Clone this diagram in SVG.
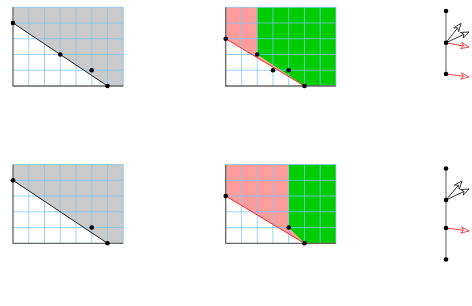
<svg xmlns="http://www.w3.org/2000/svg" width="472" height="306" viewBox="0 0 472 306">
<style>
.grid{fill:none;stroke:#7cc4f8;stroke-width:1;opacity:0.75}
.axis{fill:none;stroke:#666;stroke-width:1.3}
.gray{fill:#cacaca}
.pink{fill:#ff9d9d}
.green{fill:#00cc00}
.dline{stroke:#222;stroke-width:1;fill:none}
.rline{stroke:#ff2a2a;stroke-width:1;fill:none}
.pt{fill:#000}
.vline{stroke:#999;stroke-width:1.6}
.barr{stroke:#222;stroke-width:0.9;fill:none}
.rarr{stroke:#ff2a2a;stroke-width:0.9;fill:none}
</style>
<defs>
<path id="grid" d="M15.75,0V-78.75M31.5,0V-78.75M47.25,0V-78.75M63,0V-78.75M78.75,0V-78.75M94.5,0V-78.75M110.25,0V-78.75M0,-15.75H110.25M0,-31.5H110.25M0,-47.25H110.25M0,-63H110.25M0,-78.75H110.25"/>
<path id="axes" d="M0,-78.75V0H110.25"/>
<marker id="ab" markerWidth="10" markerHeight="8" refX="8.5" refY="4" orient="auto" markerUnits="userSpaceOnUse">
<path d="M0.5,0.8 L8.5,4 L0.5,7.2 L3,4 Z" fill="#fff" stroke="#222" stroke-width="0.8"/>
</marker>
<marker id="ar" markerWidth="10" markerHeight="8" refX="8.5" refY="4" orient="auto" markerUnits="userSpaceOnUse">
<path d="M0.5,0.8 L8.5,4 L0.5,7.2 L3,4 Z" fill="#fff" stroke="#ff2a2a" stroke-width="0.8"/>
</marker>
</defs>

<g id="panel1" transform="translate(13,86)">
<polygon class="gray" points="0,-78.75 110.25,-78.75 110.25,0 94.5,0 0,-63"/>
<use href="#grid" class="grid"/>
<use href="#axes" class="axis"/>
<line class="dline" x1="0" y1="-63" x2="94.5" y2="0"/>
<circle class="pt" cx="0" cy="-63" r="2.3"/>
<circle class="pt" cx="47.25" cy="-31.5" r="2.3"/>
<circle class="pt" cx="78.75" cy="-15.75" r="2.3"/>
<circle class="pt" cx="94.5" cy="0" r="2.3"/>
</g>

<g id="panel2" transform="translate(225.7,86)">
<polygon class="pink" points="0,-78.75 31.5,-78.75 31.5,-31.5 78.75,0 0,-47.25"/>
<polygon class="green" points="31.5,-78.75 110.25,-78.75 110.25,0 78.75,0 31.5,-31.5"/>
<use href="#grid" class="grid"/>
<use href="#axes" class="axis"/>
<line class="rline" x1="0" y1="-47.25" x2="78.75" y2="0"/>
<circle class="pt" cx="0" cy="-47.25" r="2.3"/>
<circle class="pt" cx="31.5" cy="-31.5" r="2.3"/>
<circle class="pt" cx="47.25" cy="-15.75" r="2.3"/>
<circle class="pt" cx="63" cy="-15.75" r="2.3"/>
<circle class="pt" cx="78.75" cy="0" r="2.3"/>
</g>

<g id="panel4" transform="translate(13,243.3)">
<polygon class="gray" points="0,-78.75 110.25,-78.75 110.25,0 94.5,0 0,-63"/>
<use href="#grid" class="grid"/>
<use href="#axes" class="axis"/>
<line class="dline" x1="0" y1="-63" x2="94.5" y2="0"/>
<circle class="pt" cx="0" cy="-63" r="2.3"/>
<circle class="pt" cx="78.75" cy="-15.75" r="2.3"/>
<circle class="pt" cx="94.5" cy="0" r="2.3"/>
</g>

<g id="panel5" transform="translate(225.7,243.3)">
<polygon class="pink" points="0,-78.75 63,-78.75 63,-15.75 78.75,0 0,-47.25"/>
<polygon class="green" points="63,-78.75 110.25,-78.75 110.25,0 78.75,0 63,-15.75"/>
<use href="#grid" class="grid"/>
<use href="#axes" class="axis"/>
<line class="rline" x1="0" y1="-47.25" x2="78.75" y2="0"/>
<circle class="pt" cx="0" cy="-47.25" r="2.3"/>
<circle class="pt" cx="63" cy="-15.75" r="2.3"/>
<circle class="pt" cx="78.75" cy="0" r="2.3"/>
</g>

<g id="connectors">
<line class="barr" x1="446" y1="42.7" x2="461" y2="23.5" marker-end="url(#ab)"/>
<line class="barr" x1="446" y1="42.7" x2="469" y2="32" marker-end="url(#ab)"/>
<line class="rarr" x1="446" y1="42.7" x2="469" y2="47" marker-end="url(#ar)"/>
<line class="rarr" x1="446" y1="74" x2="469" y2="77" marker-end="url(#ar)"/>
<line class="barr" x1="446" y1="200" x2="462" y2="181" marker-end="url(#ab)"/>
<line class="barr" x1="446" y1="200" x2="469" y2="189" marker-end="url(#ab)"/>
<line class="rarr" x1="446" y1="228" x2="469" y2="231" marker-end="url(#ar)"/>
</g>

<g id="panel3">
<line class="vline" x1="446" y1="11" x2="446" y2="74"/>
<circle class="pt" cx="446" cy="11" r="2.3"/>
<circle class="pt" cx="446" cy="42.7" r="2.3"/>
<circle class="pt" cx="446" cy="74" r="2.3"/>
</g>

<g id="panel6">
<line class="vline" x1="446" y1="168.5" x2="446" y2="259.5"/>
<circle class="pt" cx="446" cy="168.5" r="2.3"/>
<circle class="pt" cx="446" cy="200" r="2.3"/>
<circle class="pt" cx="446" cy="228" r="2.3"/>
<circle class="pt" cx="446" cy="259.5" r="2.3"/>
</g>
</svg>
